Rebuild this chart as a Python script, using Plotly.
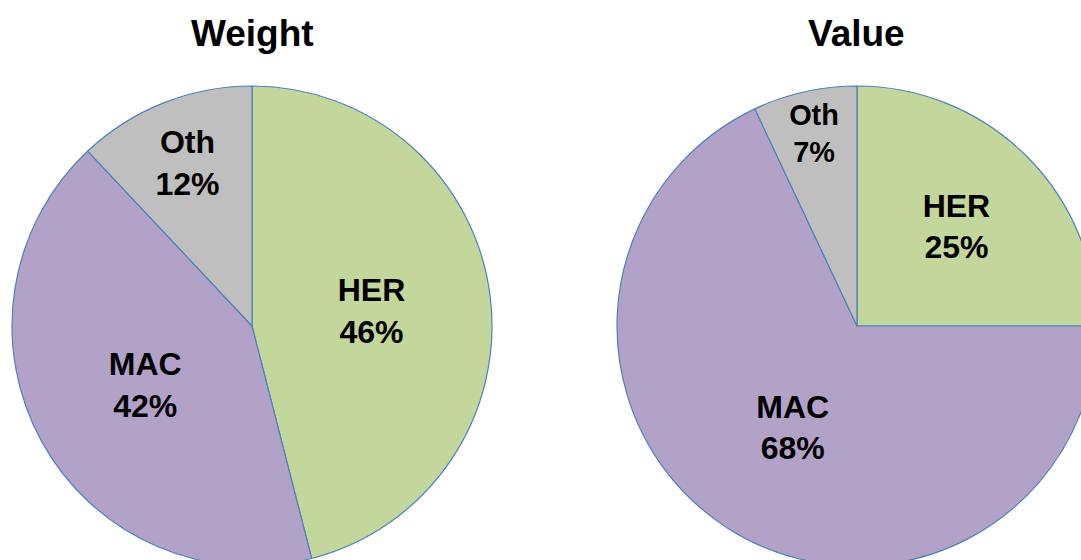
import plotly.graph_objects as go

categories = ["HER", "MAC", "Oth"]
weight_pct = [46, 42, 12]
value_pct = [25, 68, 7]
colors = ["#C3D69B", "#B3A2C7", "#BFBFBF"]
titles = ["Weight", "Value"]

W, H = 1200, 600
FONT = "Arial, Liberation Sans, sans-serif"

def dom(cx, cy, r):
    return dict(x=[(cx - r) / W, (cx + r) / W], y=[(H - cy - r) / H, (H - cy + r) / H])

fig = go.Figure()
for vals, d in [(weight_pct, dom(252, 326, 240)), (value_pct, dom(857, 326, 240))]:
    fig.add_trace(go.Pie(
        labels=categories, values=vals, sort=False, direction="clockwise", rotation=0,
        marker=dict(colors=colors, line=dict(color="#4F81BD", width=1.2)),
        textposition="inside", insidetextorientation="horizontal",
        texttemplate="<b>%{label}<br>%{percent}</b>",
        textfont=dict(family=FONT, size=32, color="black"),
        domain=d, hoverinfo="label+percent", showlegend=False,
    ))

for t, cx in zip(titles, [252, 857]):
    fig.add_annotation(text="<b>%s</b>" % t, x=cx / W, y=1 - 34 / H, xref="paper", yref="paper",
                       showarrow=False, xanchor="center", yanchor="middle",
                       font=dict(family=FONT, size=37, color="black"))

fig.update_layout(width=W, height=H, margin=dict(l=0, r=0, t=0, b=0),
                  paper_bgcolor="white", plot_bgcolor="white",
                  font=dict(family=FONT, color="black"))
fig.write_html("out.html",
               post_script="document.body.style.margin='0';document.body.style.overflow='hidden';")
